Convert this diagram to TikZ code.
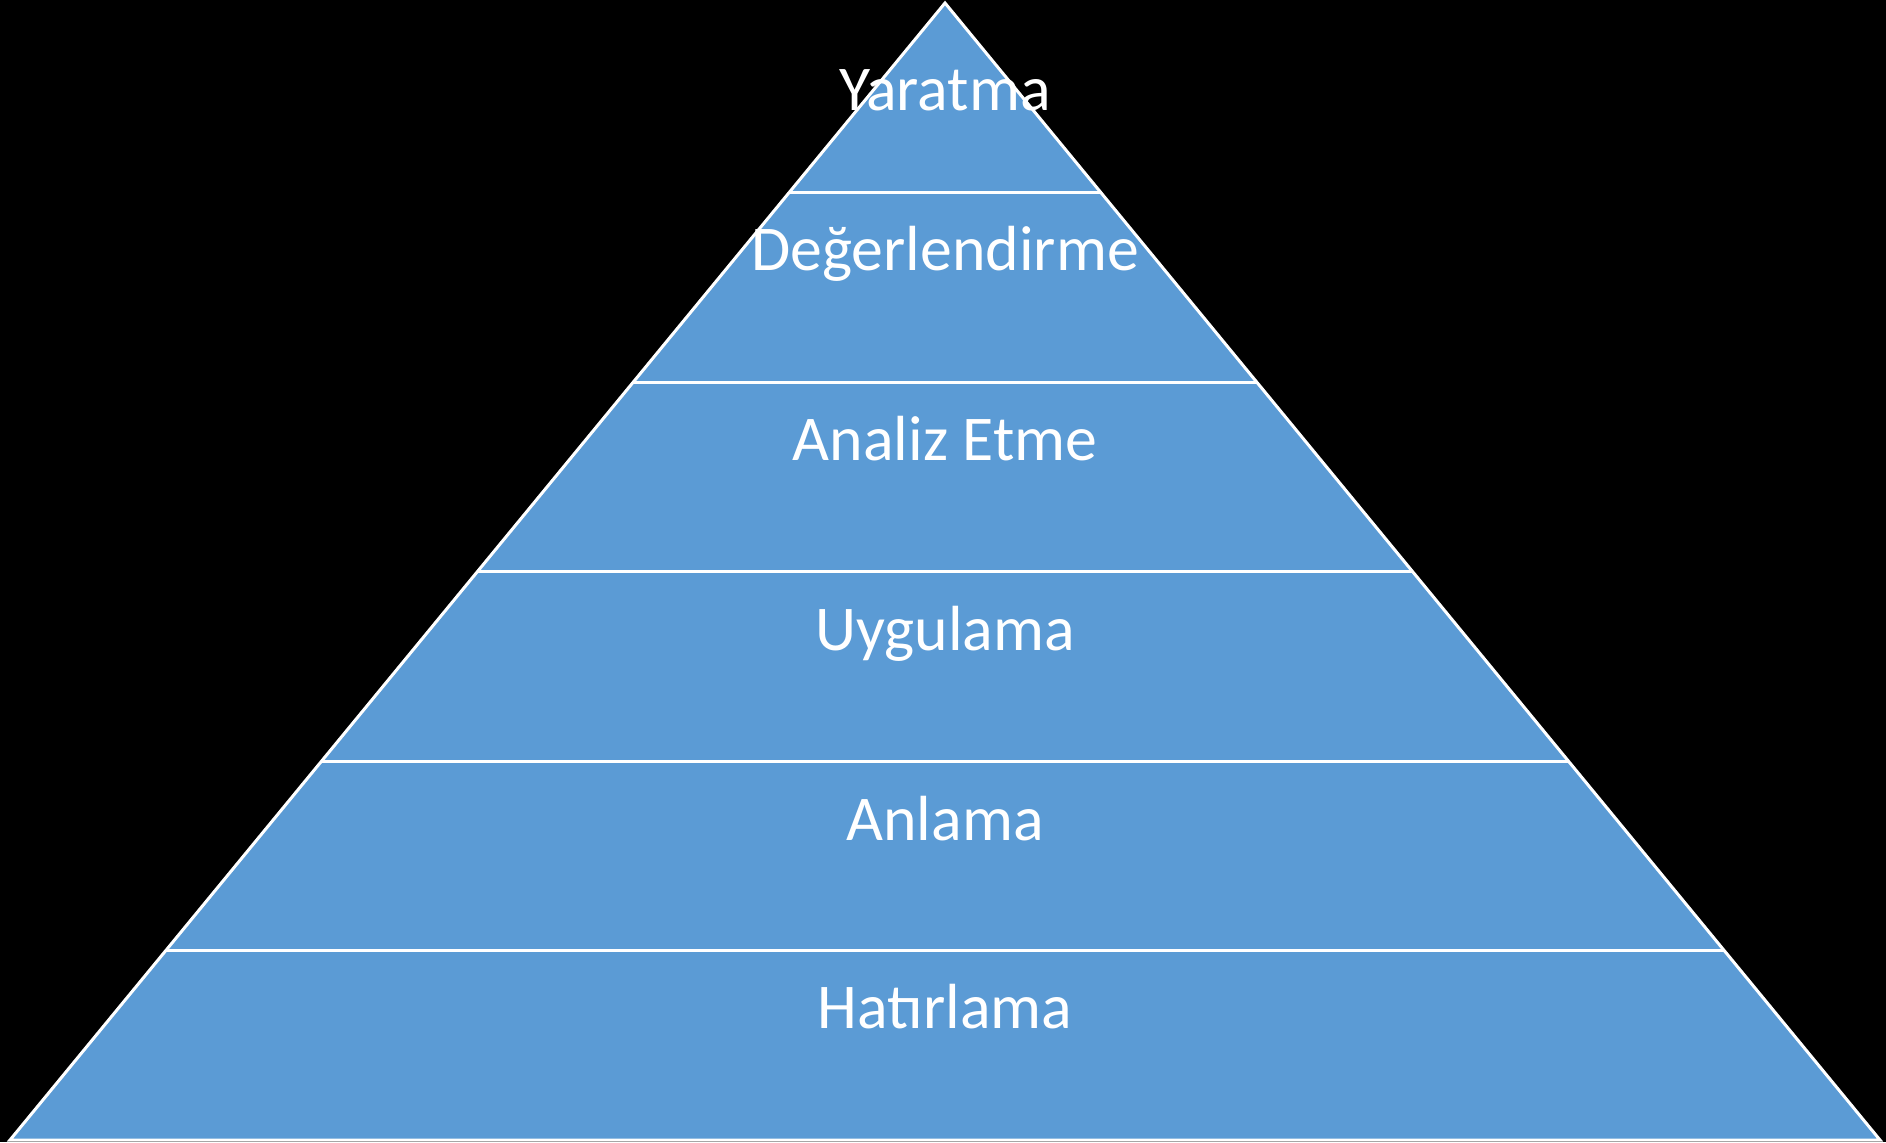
\documentclass[tikz,border=0pt]{standalone}
\usepackage{fontspec}
\setmainfont{Carlito}
\usetikzlibrary{calc}
\definecolor{pyrblue}{HTML}{5B9BD5}
\tikzset{
  px/.style={x={(0.5pt,0)},y={(0,-0.5pt)}},
  pyrfill/.style={fill=pyrblue,draw=white,line width=1.5pt,line join=miter},
  divider/.style={draw=white,line width=1.5pt},
  lvl/.style={anchor=base,text=white,inner sep=0pt,font=\fontsize{31.9pt}{38pt}\selectfont}
}
\begin{document}
\begin{tikzpicture}[px]
\fill[black] (0,0) rectangle (1886,1142);
\useasboundingbox (0,0) rectangle (1886,1142);
\coordinate (apex) at (945,3);
\coordinate (bl) at (10,1140);
\coordinate (br) at (1880,1140);
\path[pyrfill] (apex) -- (br) -- (bl) -- cycle;
\foreach \k in {1,...,5}{
  \draw[divider] ($(apex)!\k/6!(bl)$) -- ($(apex)!\k/6!(br)$);
}
\node[lvl] (l6) at (945,110) {Yaratma};
\node[lvl] (l5) at (945,270) {Değerlendirme};
\node[lvl] (l4) at (945,460) {Analiz Etme};
\node[lvl] (l3) at (945,650) {Uygulama};
\node[lvl] (l2) at (945,840) {Anlama};
\node[lvl] (l1) at (945,1028) {Hatırlama};
\end{tikzpicture}
\end{document}
